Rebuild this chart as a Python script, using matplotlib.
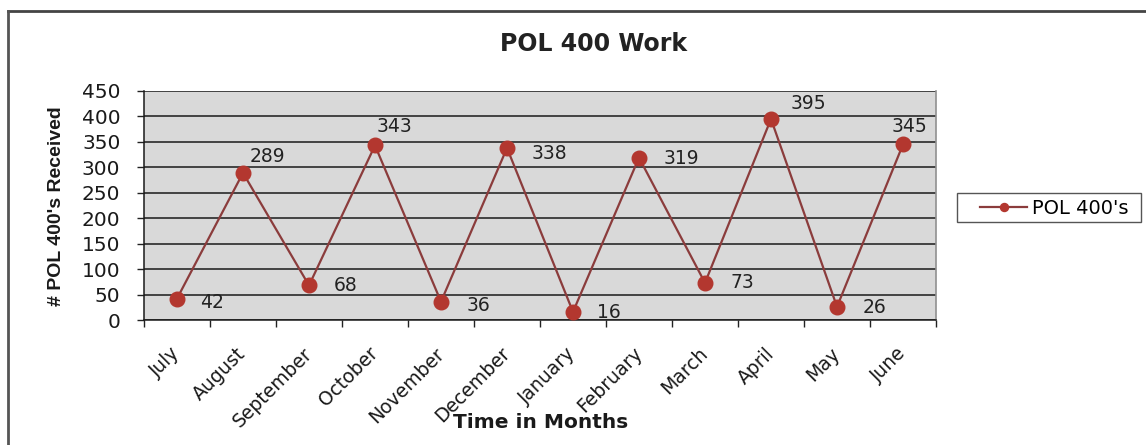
import matplotlib
matplotlib.use("Agg")
import matplotlib.pyplot as plt
from matplotlib.lines import Line2D
from matplotlib.patches import Rectangle

months = ["July", "August", "September", "October", "November", "December",
          "January", "February", "March", "April", "May", "June"]
values = [42, 289, 68, 343, 36, 338, 16, 319, 73, 395, 26, 345]
yticks = [0, 50, 100, 150, 200, 250, 300, 350, 400, 450]
# label offsets in pixels (dx, dy) relative to marker
label_dx = [35, 24, 37, 19, 37, 42, 36, 42, 37, 37, 38, 6]
label_dy = [-4, 16, 0, 19, -4, -6, -1, -1, 0, 15, -1, 18]

plt.rcParams['font.family'] = ['DejaVu Sans']

W, H = 1146, 445
fig = plt.figure(figsize=(W / 100, H / 100), dpi=100)
ax = fig.add_axes([144 / W, 1 - 320 / H, (936 - 144) / W, (320 - 91) / H])
ax.set_facecolor('#d9d9d9')

x = list(range(len(months)))
line, = ax.plot(x, values, color='#8b3c3c', lw=1.6, marker='o', ms=10.5,
                mfc='#b3372f', mec='#b3372f', zorder=3, label="POL 400's")

for xi, v, dx, dy in zip(x, values, label_dx, label_dy):
    ax.annotate(str(v), (xi, v), xytext=(dx, dy), textcoords='offset pixels',
                ha='center', va='center', fontsize=13.5, color='#222222', zorder=4)

ax.set_xlim(-0.5, len(months) - 0.5)
ax.set_ylim(0, 450)
ax.set_yticks(yticks)
ax.set_yticklabels([str(t) for t in yticks], fontsize=14.5, color='#1a1a1a')
ax.yaxis.grid(True, color='#1a1a1a', lw=1.1)
ax.set_axisbelow(True)

ax.set_xticks(x)
ax.set_xticklabels(months, rotation=45, ha='right', va='center',
                   rotation_mode='anchor', fontsize=13.5, color='#1a1a1a')
ax.tick_params(axis='x', which='major', length=0, pad=22)
ax.set_xticks([i - 0.5 for i in range(len(months) + 1)], minor=True)
ax.tick_params(axis='x', which='minor', length=5, width=1, color='#222222', direction='out')
ax.tick_params(axis='y', length=5, width=1, color='#222222', direction='out', pad=12)

for s in ['left', 'bottom']:
    ax.spines[s].set_color('#1a1a1a')
    ax.spines[s].set_linewidth(1.1)
ax.spines['top'].set_visible(False)
ax.spines['right'].set_color('#909090')
ax.spines['right'].set_linewidth(1.2)

fig.text(57 / W, 1 - 206 / H, "# POL 400's Received", fontsize=14, fontweight='bold',
         family='Liberation Sans', rotation=90, ha='center', va='center', color='#1a1a1a')
fig.text(453 / W, 1 - 422 / H, "Time in Months", fontsize=14.5, fontweight='bold',
         ha='left', va='center', color='#1a1a1a')
fig.text(594 / W, 1 - 44 / H, "POL 400 Work", fontsize=17, fontweight='bold',
         ha='center', va='center', color='#222222')

# legend: box drawn separately, entries via legend without frame
fig.add_artist(Rectangle((957 / W, 1 - 222 / H), (1141 - 957) / W, (222 - 193) / H,
                         transform=fig.transFigure, fill=False, edgecolor='#555555', lw=1.0))
leg = fig.legend(handles=[line], loc='center left', bbox_to_anchor=(980 / W, 1 - 208 / H),
                 fontsize=14, frameon=False, handlelength=2.42, markerscale=0.55,
                 borderpad=0, borderaxespad=0, handletextpad=0.27)

# outer chart frame (top and left edges visible)
fig.add_artist(Line2D([8 / W, 1.0], [1 - 11 / H, 1 - 11 / H], color='#444444', lw=2,
                      transform=fig.transFigure))
fig.add_artist(Line2D([8 / W, 8 / W], [0.0, 1 - 11 / H], color='#555555', lw=2,
                      transform=fig.transFigure))

fig.savefig('out.png', dpi=100)
